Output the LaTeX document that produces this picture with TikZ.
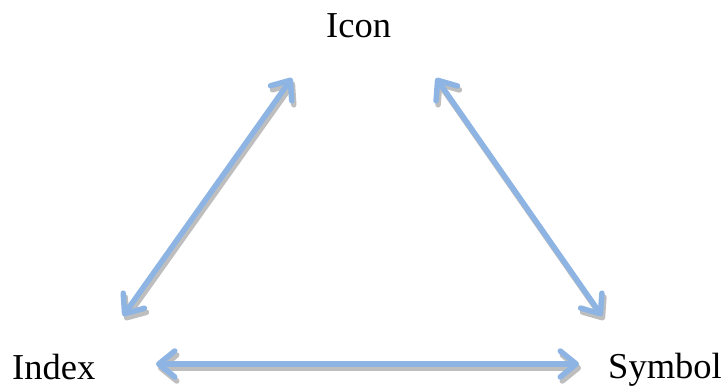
\documentclass[tikz,border=0pt]{standalone}
\usepackage{fontspec}
\setmainfont{Liberation Serif}
\usetikzlibrary{arrows.meta}
\definecolor{arrowblue}{RGB}{142,180,227}
\definecolor{shadowgray}{RGB}{190,190,190}
\tikzset{
  lbl/.style={inner sep=0pt, anchor=base west, font=\fontsize{36.5}{40}\selectfont},
  link/.style={line width=5.5pt, arrowblue, {Straight Barb[length=16pt,width=26pt,line cap=round,line join=round]}-{Straight Barb[length=16pt,width=26pt,line cap=round,line join=round]}},
  linkshadow/.style={link, draw=shadowgray, transform canvas={shift={(2pt,-4pt)}}}
}
\begin{document}
\begin{tikzpicture}[x=1pt,y=-1pt]
\useasboundingbox (0,0) rectangle (727,386);
\node[lbl] (icon) at (326,37) {Icon};
\node[lbl] (index) at (12,379) {Index};
\node[lbl] (symbol) at (608,378) {Symbol};
\coordinate (a1) at (292,78);
\coordinate (a2) at (123,316);
\coordinate (b1) at (436,78);
\coordinate (b2) at (602,316);
\coordinate (c1) at (156,364);
\coordinate (c2) at (579,364);
\draw[linkshadow] (a1) -- (a2);
\draw[linkshadow] (b1) -- (b2);
\draw[linkshadow] (c1) -- (c2);
\draw[link] (a1) -- (a2);
\draw[link] (b1) -- (b2);
\draw[link] (c1) -- (c2);
\end{tikzpicture}
\end{document}
